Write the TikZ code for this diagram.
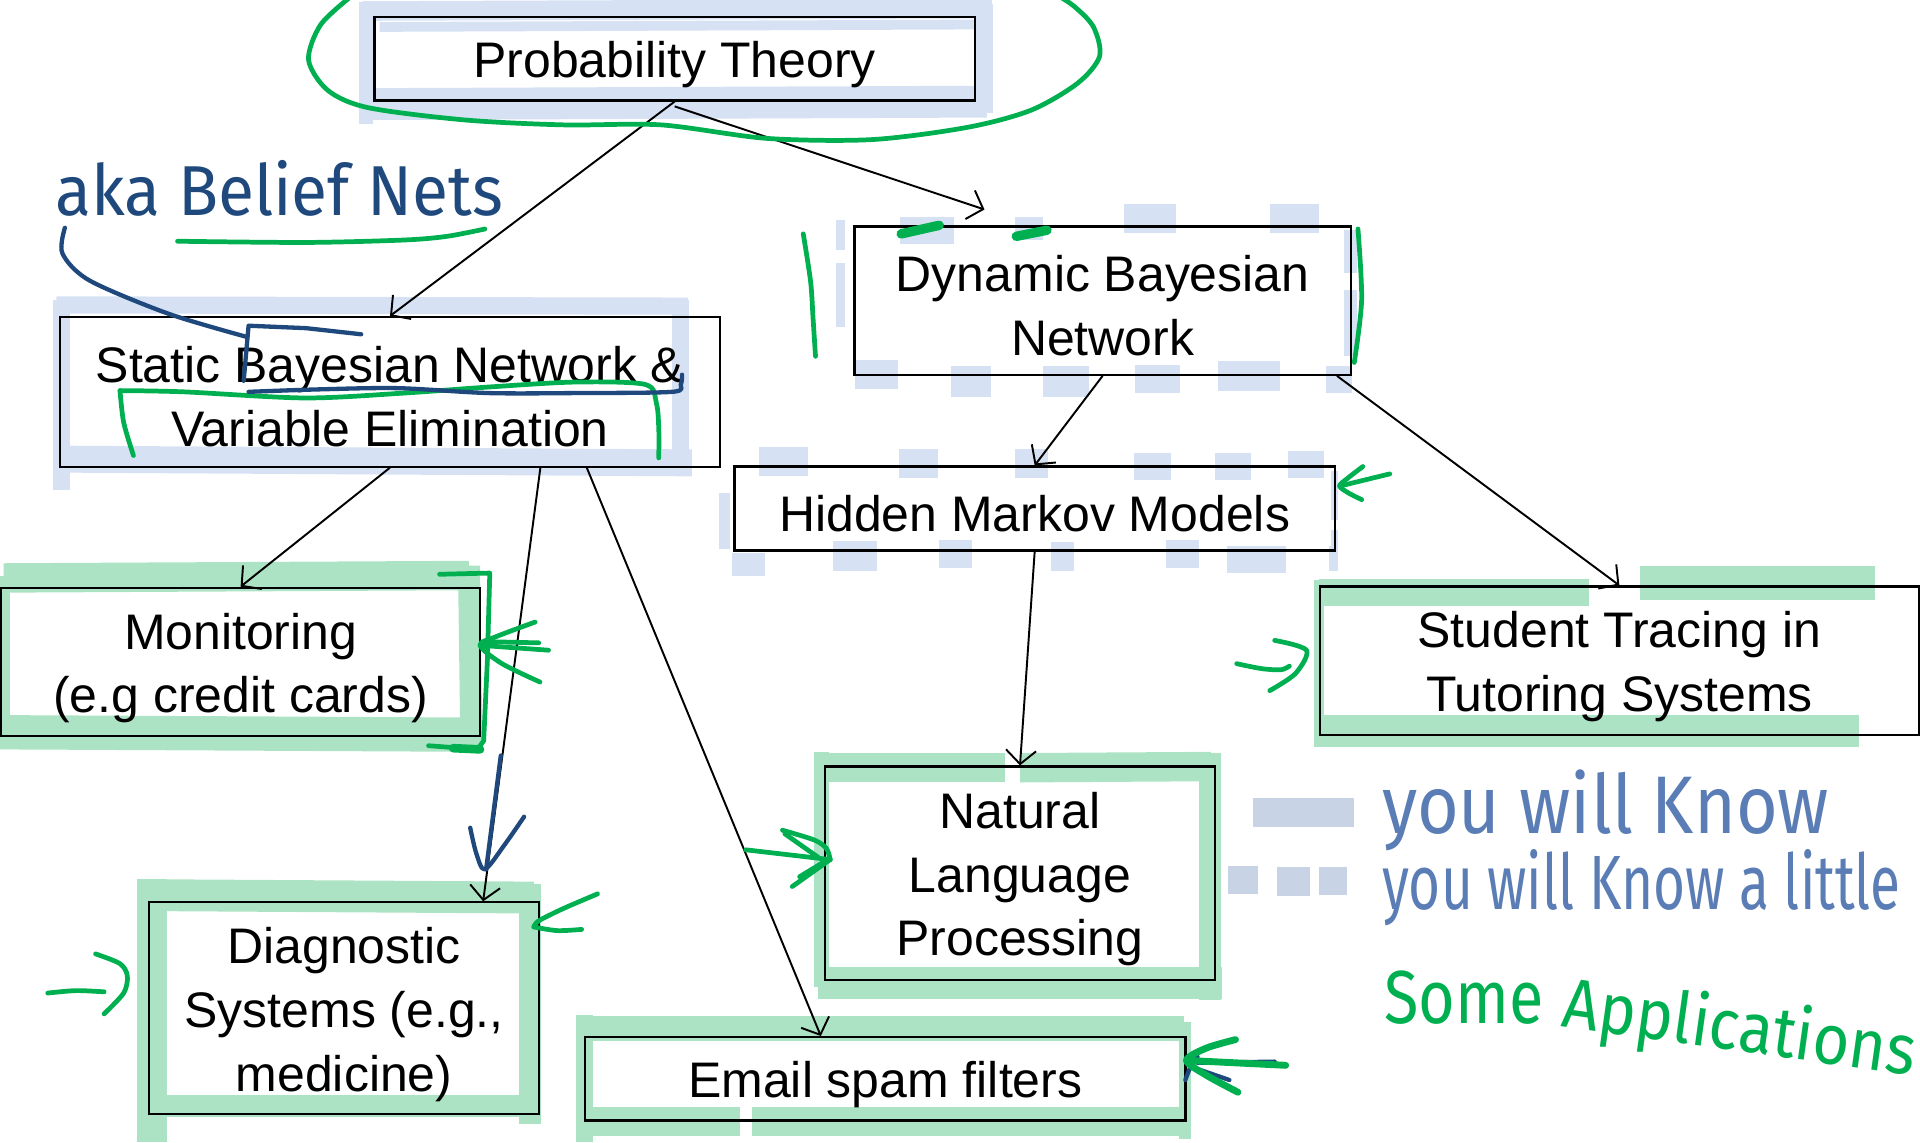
\documentclass[tikz,border=0pt]{standalone}
\usepackage{fontspec}
\setmainfont{Liberation Sans}
\newfontfamily\hand{Fira Sans}
\usetikzlibrary{arrows.meta,calc}
\definecolor{hlblue}{RGB}{214,226,243}
\definecolor{hlgreen}{RGB}{172,227,197}
\definecolor{pengreen}{RGB}{0,176,80}
\definecolor{penblue}{RGB}{31,73,125}
\definecolor{inkblue}{RGB}{91,125,181}
\definecolor{legblue}{RGB}{200,212,230}
\begin{document}
\begin{tikzpicture}[x=0.01cm,y=-0.01cm,
  box/.style={draw=black, line width=0.5pt, inner sep=0pt},
  boxtext/.style={inner sep=0pt, align=center,
    font=\fontsize{11.6pt}{14.8pt}\selectfont},
  link/.style={draw=black, line width=0.45pt, -{Straight Barb[length=3.2pt,width=7pt]}},
  hlb/.style={draw=hlblue, line cap=butt, line join=round},
  hlg/.style={draw=hlgreen, line cap=butt, line join=round},
  gpen/.style={draw=pengreen, line width=1.1pt, line cap=round, line join=round},
  bpen/.style={draw=penblue, line width=1.0pt, line cap=round, line join=round},
  handtext/.style={inner sep=0pt, anchor=base west}]
\useasboundingbox (0,0) rectangle (1568,933);

% ---------- blue highlights ----------
\draw[hlb, line width=0.16cm] (296,9) -- (810,7);
\draw[hlb, line width=0.08cm] (310,22) -- (800,20);
\draw[hlb, line width=0.26cm] (300,85) -- (806,83);
\draw[hlb, line width=0.12cm] (299,2) -- (299,101);
\draw[hlb, line width=0.14cm] (804,3) -- (804,92);

\draw[hlb, line width=0.14cm] (46,249) -- (562,250);
\draw[hlb, line width=0.14cm] (50,245) -- (50,400);
\draw[hlb, line width=0.22cm] (55,375) -- (565,378);
\draw[hlb, line width=0.14cm] (556,245) -- (556,387);

% dashed (square) highlight around Dynamic Bayesian Network
\foreach \a/\b/\c/\d in {735/177/779/199, 829/177/852/196, 918/167/960/190, 1037/167/1077/190,
  698/294/733/318, 777/299/809/324, 852/299/889/324, 927/298/964/321, 995/295/1045/319, 1083/299/1104/321,
  683/180/690/204, 683/215/690/267, 1098/188/1108/223, 1098/237/1108/291}
  \fill[hlblue] (\a,\b) rectangle (\c,\d);
% dashed (square) highlight around Hidden Markov Models
\foreach \a/\b/\c/\d in {620/365/660/389, 734/367/766/390, 829/367/856/390, 926/370/956/392, 992/370/1022/392, 1052/368/1081/390,
  598/452/625/470, 680/442/716/466, 767/441/794/464, 858/443/877/466, 952/441/979/464, 1002/446/1050/468, 1085/446/1092/466,
  587/403/596/448, 1087/385/1093/425, 1087/433/1093/466}
  \fill[hlblue] (\a,\b) rectangle (\c,\d);

% ---------- green highlights ----------
% Monitoring
\draw[hlg, line width=0.24cm] (3,472) -- (383,470);
\draw[hlg, line width=0.18cm] (383,462) -- (385,610);
\draw[hlg, line width=0.28cm] (0,598) -- (392,600);
\draw[hlg, line width=0.08cm] (4,470) -- (4,600);
% Diagnostic
\draw[hlg, line width=0.26cm] (117,731) -- (436,733);
\draw[hlg, line width=0.24cm] (124,718) -- (124,933);
\draw[hlg, line width=0.18cm] (433,722) -- (433,918);
\draw[hlg, line width=0.18cm] (122,903) -- (440,903);
% NLP
\draw[hlg, line width=0.24cm] (667,627) -- (821,627);
\draw[hlg, line width=0.24cm] (833,627) -- (989,626);
\draw[hlg, line width=0.12cm] (671,614) -- (671,806);
\draw[hlg, line width=0.18cm] (988,615) -- (988,817);
\draw[hlg, line width=0.26cm] (668,803) -- (998,803);
% Email
\draw[hlg, line width=0.20cm] (470,840) -- (967,840);
\draw[hlg, line width=0.24cm] (470,916) -- (604,916);
\draw[hlg, line width=0.24cm] (614,916) -- (968,916);
\draw[hlg, line width=0.10cm] (968,835) -- (968,930);
\draw[hlg, line width=0.14cm] (477,829) -- (477,933);
% Student
\draw[hlg, line width=0.22cm] (1077,484) -- (1298,484);
\draw[hlg, line width=0.28cm] (1339,476) -- (1531,476);
\draw[hlg, line width=0.08cm] (1077,474) -- (1077,610);
\draw[hlg, line width=0.26cm] (1073,597) -- (1518,597);

% ---------- boxes ----------
\node[box, minimum width=4.90cm, minimum height=0.68cm] (pt) at (551,48) {};
\node[box, minimum width=5.39cm, minimum height=1.22cm] (sbn) at (318.5,320) {};
\node[box, minimum width=4.05cm, minimum height=1.21cm] (dbn) at (900.5,245.5) {};
\node[box, minimum width=4.90cm, minimum height=0.685cm] (hmm) at (845,415.25) {};
\node[box, minimum width=3.91cm, minimum height=1.21cm] (mon) at (196.5,540.5) {};
\node[box, minimum width=4.89cm, minimum height=1.21cm] (stu) at (1322.5,539.5) {};
\node[box, minimum width=3.18cm, minimum height=1.74cm] (nlp) at (833,713) {};
\node[box, minimum width=3.18cm, minimum height=1.73cm] (diag) at (281,823.5) {};
\node[box, minimum width=4.90cm, minimum height=0.68cm] (email) at (723,881) {};

\node[boxtext] (ptt) at ($(pt.center)+(0,5)$) {Probability Theory};
\node[boxtext] (sbnt) at ($(sbn.center)+(0,4)$) {Static Bayesian Network \&\\Variable Elimination};
\node[boxtext] (dbnt) at ($(dbn.center)+(0,4)$) {Dynamic Bayesian\\Network};
\node[boxtext] (hmmt) at ($(hmm.center)+(0,4)$) {Hidden Markov Models};
\node[boxtext] (mont) at ($(mon.center)+(0,5)$) {Monitoring\\(e.g credit cards)};
\node[boxtext] (stut) at ($(stu.center)+(0,5)$) {Student Tracing in\\Tutoring Systems};
\node[boxtext] (nlpt) at ($(nlp.center)+(0,5)$) {Natural\\Language\\Processing};
\node[boxtext] (diagt) at ($(diag.center)+(0,5)$) {Diagnostic\\Systems (e.g.,\\medicine)};
\node[boxtext] (emailt) at ($(email.center)+(0,5)$) {Email spam filters};

% ---------- connectors ----------
\coordinate (dbntip) at ($(dbn.north west)+(107,-13)$);
\draw[link] (pt.south) -- (sbn.north);
\draw[link] ($(pt.south)+(0,4)$) -- (dbntip);
\draw[link] (sbn.south) -- (mon.north);
\draw[link] ($(sbn.south west)!0.727!(sbn.south east)$) -- ($(diag.north west)!0.855!(diag.north east)$);
\draw[link] ($(sbn.south west)!0.797!(sbn.south east)$) -- ($(email.north west)!0.393!(email.north east)$);
\draw[link] (dbn.south) -- (hmm.north);
\draw[link] ($(dbn.south west)!0.97!(dbn.south east)$) -- (stu.north);
\draw[link] (hmm.south) -- (nlp.north);

% ---------- legend swatches ----------
\fill[legblue] (1023,652) rectangle (1106,675);
\fill[legblue] (1003,707) rectangle (1027,730);
\fill[legblue] (1043,708) rectangle (1070,732);
\fill[legblue] (1077,708) rectangle (1100,731);

% ---------- green pen strokes ----------
\draw[gpen] plot[smooth] coordinates {(288,-4) (262,20) (252,49) (268,74) (301,88) (380,98) (461,102) (540,102) (626,113) (712,114) (790,104) (842,90) (880,68) (898,46) (893,22) (877,5) (860,-6)};
\draw[gpen] plot[smooth] coordinates {(145,197) (250,198) (330,196) (365,193) (396,187)};
\draw[gpen] plot[smooth] coordinates {(109,372) (101,345) (98,319)};
\draw[gpen] plot[smooth] coordinates {(98,319) (150,320) (249,325) (330,321) (400,316) (470,312) (527,314) (536,329) (538,350) (538,374)};
% Dynamic BN marks
\draw[gpen] plot[smooth] coordinates {(656,191) (662,230) (664,260) (666,291)};
\draw[gpen] plot[smooth] coordinates {(1109,187) (1112,245) (1106,296)};
\draw[gpen, line width=2.2pt] (736,191) -- (767,184);
\draw[gpen, line width=2.2pt] (830,193) -- (855,188);
% HMM arrow
\draw[gpen] plot[smooth] coordinates {(1113,381) (1100,391) (1094,397) (1102,403) (1112,408)};
\draw[gpen] (1094,397) -- (1135,387);
% Student mark
\draw[gpen] plot[smooth] coordinates {(1010,542) (1030,546) (1046,547) (1053,544)};
\draw[gpen] plot[smooth] coordinates {(1041,523) (1067,531) (1058,550) (1037,564)};
% Monitoring bracket and arrow
\draw[gpen] (359,469) -- (400,468) -- (398,540) -- (395,605) -- (390,612) -- (350,609);
\draw[gpen, line width=2pt] (370,611) -- (392,612);
\draw[gpen] plot[smooth] coordinates {(437,508) (405,520) (392,527) (410,542) (441,557)};
\draw[gpen] (392,527) -- (448,531);
\draw[gpen] (396,524) -- (440,525);
% Diagnostic marks
\draw[gpen] plot[smooth] coordinates {(39,811) (62,809) (85,810)};
\draw[gpen] plot[smooth] coordinates {(78,779) (98,787) (104,797) (101,811) (85,828)};
\draw[gpen] plot[smooth] coordinates {(488,730) (460,742) (440,752) (436,757)};
\draw[gpen] plot[smooth] coordinates {(436,757) (455,760) (475,759)};
% NLP arrow
\draw[gpen] (609,694) -- (678,702);
\draw[gpen] plot[smooth] coordinates {(639,678) (665,686) (675,693) (678,702)};
\draw[gpen] (678,702) -- (647,724);
\draw[gpen] (641,681) -- (668,700);
\draw[gpen] (653,716) -- (676,702);
% Email arrow
\draw[bpen] (978,863) -- (971,874) -- (968,882);
\draw[bpen] (975,872) -- (1004,882);
\draw[bpen] (978,868) -- (1041,867);
\draw[gpen, line width=1.6pt] plot[smooth] coordinates {(1009,849) (985,856) (969,866) (985,878) (1011,892)};
\draw[gpen, line width=1.6pt] (969,866) -- (1050,870);

% ---------- dark blue pen strokes ----------
\draw[bpen] plot[smooth] coordinates {(203,320) (260,318) (325,317) (399,321) (470,321) (549,320) (556,314) (557,306)};
\draw[bpen] plot[smooth] coordinates {(53,186) (51,207) (73,229) (137,256) (201,275)};
\draw[bpen] (199,311) -- (203,266) -- (250,268) -- (295,273);
\draw[bpen] (409,617) -- (397,710);
\draw[bpen] plot[smooth] coordinates {(384,676) (389,697) (396,710) (412,690) (428,667)};

% ---------- handwritten text ----------
\node[handtext, text=penblue] (aka) at (45,176) {\resizebox{3.65cm}{0.45cm}{\hand aka Belief Nets}};
\node[handtext, text=inkblue] (know) at (1128,681) {\resizebox{3.65cm}{0.52cm}{\hand you will Know}};
\node[handtext, text=inkblue] (little) at (1128,743) {\resizebox{4.23cm}{0.49cm}{\hand you will Know a little}};
\node[handtext, text=pengreen] (some) at (1130,836) {\resizebox{1.30cm}{0.43cm}{\hand Some}};
\node[handtext, text=pengreen, rotate=-8] (apps) at (1274,838) {\resizebox{2.90cm}{0.45cm}{\hand Applications}};
\end{tikzpicture}
\end{document}
